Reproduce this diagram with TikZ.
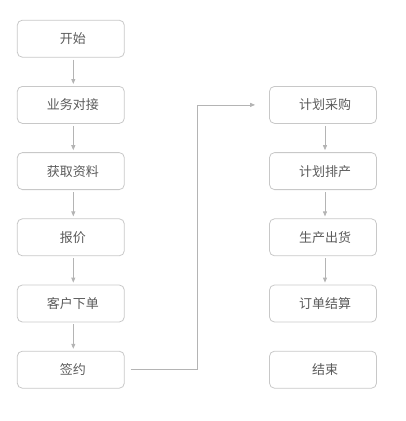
\documentclass[tikz,border=0pt]{standalone}
\usepackage{fontspec}
\usepackage{xcolor}
\usepackage{tikz}
\usetikzlibrary{arrows.meta}
\newfontfamily\cjk{Noto Sans CJK SC}

\definecolor{boxline}{HTML}{C8C8C8}
\definecolor{boxtext}{HTML}{5A5A5A}
\definecolor{arrowline}{HTML}{B4B4B4}

\begin{document}
\begin{tikzpicture}[x=1pt,y=-1pt,
  stage/.style={draw=boxline,line width=0.8pt,rounded corners=5pt,minimum width=107pt,minimum height=37pt,inner sep=0pt,font=\cjk\fontsize{13}{13}\selectfont,text=boxtext,execute at begin node={\hspace*{4pt}}},
  flow/.style={draw=arrowline,line width=0.8pt,-{Triangle[length=5pt,width=4pt]},shorten >=2pt,shorten <=2pt}]
  \useasboundingbox (0,0) rectangle (406,421);

  \node[stage] (start)    at (70.8,38.7)  {开始};
  \node[stage] (contact)  at (70.8,104.9) {业务对接};
  \node[stage] (collect)  at (70.8,171.1) {获取资料};
  \node[stage] (quote)    at (70.8,237.3) {报价};
  \node[stage] (order)    at (70.8,303.5) {客户下单};
  \node[stage] (sign)     at (70.8,369.7) {签约};

  \node[stage] (purchase) at (323,104.9) {计划采购};
  \node[stage] (schedule) at (323,171.1) {计划排产};
  \node[stage] (ship)     at (323,237.3) {生产出货};
  \node[stage] (settle)   at (323,303.5) {订单结算};
  \node[stage] (finish)   at (323,369.7) {结束};

  \draw[flow] ([xshift=2.5pt]start.south) -- ([xshift=2.5pt]contact.north);
  \draw[flow] ([xshift=2.5pt]contact.south) -- ([xshift=2.5pt]collect.north);
  \draw[flow] ([xshift=2.5pt]collect.south) -- ([xshift=2.5pt]quote.north);
  \draw[flow] ([xshift=2.5pt]quote.south) -- ([xshift=2.5pt]order.north);
  \draw[flow] ([xshift=2.5pt]order.south) -- ([xshift=2.5pt]sign.north);

  \draw[flow,shorten <=6pt,shorten >=14pt] (sign.east) -- (197,369.7) |- (purchase.west);

  \draw[flow] ([xshift=2pt]purchase.south) -- ([xshift=2pt]schedule.north);
  \draw[flow] ([xshift=2pt]schedule.south) -- ([xshift=2pt]ship.north);
  \draw[flow] ([xshift=2pt]ship.south) -- ([xshift=2pt]settle.north);
\end{tikzpicture}
\end{document}
